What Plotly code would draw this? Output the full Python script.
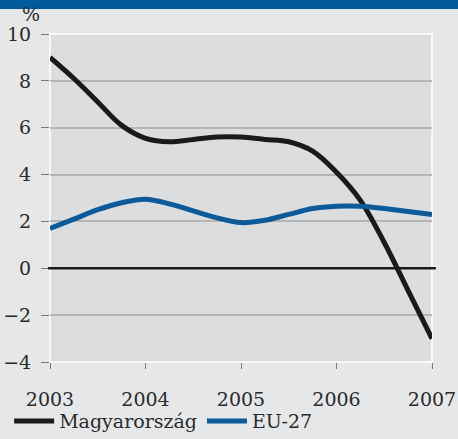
import plotly.graph_objects as go

# Quarterly series (percent)
years = [2003.0, 2003.25, 2003.5, 2003.75, 2004.0, 2004.25, 2004.5, 2004.75,
         2005.0, 2005.25, 2005.5, 2005.75, 2006.0, 2006.25, 2006.5, 2006.75, 2007.0]
magyarorszag = [9.0, 8.1, 7.1, 6.1, 5.55, 5.4, 5.5, 5.6,
                5.6, 5.5, 5.4, 5.0, 4.1, 2.9, 1.1, -0.95, -3.0]
eu27 = [1.7, 2.1, 2.5, 2.8, 2.95, 2.75, 2.45, 2.15,
        1.95, 2.05, 2.3, 2.55, 2.65, 2.65, 2.55, 2.42, 2.3]

x_ticks = [2003, 2004, 2005, 2006, 2007]
y_ticks = [-4, -2, 0, 2, 4, 6, 8, 10]
y_tick_text = ["\u22124", "\u22122", "0", "2", "4", "6", "8", "10"]

FONT = "DejaVu Serif"
OUTER_BG = "#e6e7e9"
PLOT_BG = "#dcdddf"
BLUE = "#0d5a99"
BLACK = "#1b1a1a"
TEXT = "#2a2a2a"

fig = go.Figure()
fig.add_trace(go.Scatter(
    x=years, y=magyarorszag, name="Magyarország", mode="lines",
    line=dict(color=BLACK, width=5, shape="spline", smoothing=1.0),
))
fig.add_trace(go.Scatter(
    x=years, y=eu27, name="EU-27", mode="lines",
    line=dict(color=BLUE, width=5, shape="spline", smoothing=1.0),
))

shapes = [
    # plot frame
    dict(type="rect", xref="paper", yref="paper", x0=0, x1=1, y0=0, y1=1,
         line=dict(color="#ffffff", width=1.5), layer="below"),
    # zero line
    dict(type="line", xref="paper", yref="y", x0=-0.005, x1=1.01, y0=0, y1=0,
         line=dict(color=BLACK, width=2.5)),
    # top band
    dict(type="rect", xref="paper", yref="paper", x0=-0.2, x1=1.2,
         y0=1.0762, y1=1.2, line=dict(width=0), fillcolor="#005a9c"),
]

fig.update_layout(
    width=458, height=439,
    margin=dict(l=50, r=26, t=34, b=77, autoexpand=False),
    paper_bgcolor=OUTER_BG, plot_bgcolor=PLOT_BG,
    font=dict(family=FONT, size=19, color=TEXT),
    shapes=shapes,
    showlegend=True,
    legend=dict(orientation="h", x=-0.107, xanchor="left", y=-0.18, yanchor="middle",
                bgcolor="rgba(0,0,0,0)", font=dict(family=FONT, size=19, color=TEXT),
                itemwidth=40, tracegroupgap=0),
    annotations=[dict(text="%", xref="paper", yref="paper", x=-0.05, y=1.062,
                      xanchor="center", yanchor="middle", showarrow=False,
                      font=dict(family=FONT, size=19, color=TEXT))],
)

fig.update_xaxes(
    range=[2003, 2007], tickvals=x_ticks, ticktext=[str(v) for v in x_ticks],
    showgrid=False, zeroline=False, showline=False,
    ticks="outside", ticklen=6, tickcolor="#777777", tickwidth=1,
    ticklabelstandoff=14,
)
fig.update_yaxes(
    range=[-4, 10], tickvals=y_ticks, ticktext=y_tick_text,
    showgrid=True, gridcolor="#b5b5b5", gridwidth=1.5, zeroline=False, showline=False,
    ticks="outside", ticklen=8, tickcolor="#777777", tickwidth=1,
    ticklabelstandoff=6,
)

fig.write_html("out.html")
